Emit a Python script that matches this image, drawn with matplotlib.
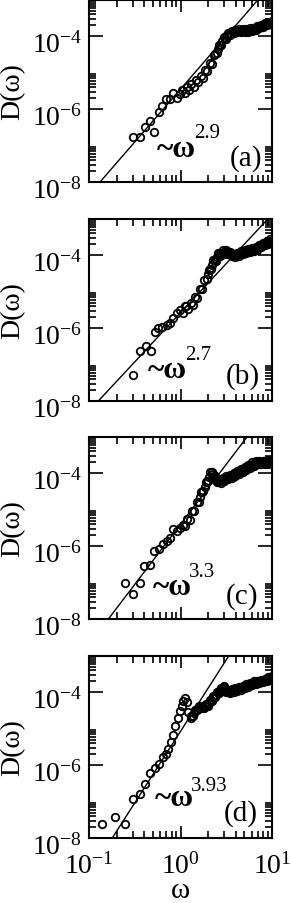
import numpy as np
import matplotlib
matplotlib.use("Agg")
import matplotlib.pyplot as plt
from matplotlib.ticker import FixedLocator, FuncFormatter, NullFormatter
from matplotlib.transforms import ScaledTranslation

plt.rcParams['font.family'] = ['Liberation Serif', 'DejaVu Serif']
plt.rcParams['mathtext.fontset'] = 'custom'
plt.rcParams['mathtext.rm'] = 'Liberation Serif'
plt.rcParams['mathtext.it'] = 'Liberation Serif:italic'
plt.rcParams['mathtext.bf'] = 'Liberation Serif:bold'

# ---------------- data (log10 omega, log10 D) ----------------
# panel (a)
logw_a = [-0.516, -0.443, -0.388, -0.333, -0.286, -0.232, -0.199, -0.162, -0.115, -0.079, -0.042, -0.005,
          0.02, 0.045, 0.07, 0.095, 0.12, 0.145, 0.17, 0.195, 0.22, 0.245, 0.27, 0.295, 0.32, 0.345,
          0.37, 0.395, 0.42, 0.445, 0.47, 0.495, 0.52, 0.545,
          0.56, 0.58, 0.60, 0.62, 0.64, 0.66, 0.68, 0.70, 0.72, 0.74, 0.76, 0.78, 0.80, 0.82, 0.84,
          0.86, 0.88, 0.90, 0.92, 0.94, 0.96, 0.98, 1.00]
logD_a = [-6.775, -6.775, -6.485, -6.32, -6.622, -6.09, -5.91, -5.73, -5.73, -5.56, -5.68, -5.59,
          -5.47, -5.56, -5.40, -5.48, -5.31, -5.38, -5.20, -5.26, -5.08, -5.13, -4.93, -4.95, -4.74, -4.75,
          -4.50, -4.46, -4.23, -4.24, -4.02, -4.06, -3.90, -3.95,
          -3.85, -3.91, -3.82, -3.89, -3.81, -3.89, -3.80, -3.88, -3.79, -3.87, -3.78, -3.85, -3.76, -3.82, -3.72,
          -3.78, -3.68, -3.74, -3.64, -3.70, -3.60, -3.66, -3.58]
logw_a2 = [0.3825, 0.4075, 0.4325, 0.4575, 0.4825, 0.5075, 0.5325,
           0.57, 0.59, 0.61, 0.63, 0.65, 0.67, 0.69, 0.71, 0.73, 0.75, 0.77, 0.79, 0.81, 0.83, 0.85,
           0.87, 0.89, 0.91, 0.93, 0.95, 0.97, 0.99]
logD_a2 = [-4.49, -4.35, -4.23, -4.13, -4.04, -3.975, -3.93,
           -3.88, -3.865, -3.857, -3.852, -3.85, -3.847, -3.842, -3.837, -3.832, -3.825, -3.815, -3.805, -3.79, -3.77, -3.75,
           -3.73, -3.71, -3.69, -3.67, -3.65, -3.63, -3.61]

# panel (b)
logw_b = [-0.519, -0.443, -0.377, -0.326, -0.279, -0.243, -0.205, -0.151, -0.115, -0.079, -0.042, -0.005, 0.031, 0.049,
          0.06, 0.085, 0.11, 0.135, 0.16, 0.185, 0.21, 0.235, 0.26, 0.285, 0.31, 0.335, 0.36, 0.385, 0.41, 0.435,
          0.46, 0.48, 0.50, 0.52, 0.54, 0.56, 0.58, 0.60, 0.62, 0.64, 0.66, 0.68, 0.70, 0.72, 0.74, 0.76,
          0.78, 0.80, 0.82, 0.84, 0.86, 0.88, 0.90, 0.92, 0.94, 0.96, 0.98, 1.00]
logD_b = [-7.288, -6.616, -6.493, -6.616, -6.110, -6.008, -5.964, -5.918, -5.844, -5.707, -5.570, -5.507, -5.589, -5.389,
          -5.39, -5.48, -5.30, -5.36, -5.15, -5.16, -4.92, -4.91, -4.67, -4.66, -4.39, -4.37, -4.13, -4.15, -3.94, -4.01,
          -3.86, -3.95, -3.85, -3.97, -3.90, -4.03, -3.95, -4.04, -3.93, -4.01, -3.89, -3.97, -3.86, -3.94, -3.83, -3.91,
          -3.80, -3.88, -3.77, -3.84, -3.72, -3.78, -3.66, -3.72, -3.61, -3.68, -3.56, -3.63]
logw_b2 = [0.2975, 0.3225, 0.3475, 0.3725, 0.3975, 0.4225, 0.4475,
           0.47, 0.49, 0.51, 0.53, 0.55, 0.57, 0.59, 0.61, 0.63, 0.65, 0.67, 0.69, 0.71, 0.73, 0.75,
           0.77, 0.79, 0.81, 0.83, 0.85, 0.87, 0.89, 0.91, 0.93, 0.95, 0.97, 0.99]
logD_b2 = [-4.52, -4.38, -4.25, -4.14, -4.045, -3.975, -3.93,
           -3.91, -3.905, -3.915, -3.945, -3.97, -3.99, -3.995, -3.985, -3.97, -3.95, -3.93, -3.917, -3.90, -3.883, -3.87,
           -3.857, -3.845, -3.83, -3.805, -3.78, -3.75, -3.72, -3.695, -3.667, -3.642, -3.62, -3.60]

# panel (c)
logw_c = [-0.607, -0.522, -0.443, -0.399, -0.333, -0.286, -0.232, -0.188, -0.151, -0.115, -0.079, -0.042, -0.005,
          0.025, 0.05, 0.075, 0.10, 0.125, 0.15, 0.175, 0.20, 0.225, 0.25, 0.275, 0.30, 0.325,
          0.34, 0.36, 0.38, 0.40, 0.42, 0.44, 0.46, 0.48, 0.50, 0.52, 0.54, 0.56, 0.58, 0.60, 0.62, 0.64, 0.66,
          0.68, 0.70, 0.72, 0.74, 0.76, 0.78, 0.80, 0.82, 0.84, 0.86, 0.88, 0.90, 0.92, 0.94, 0.96, 0.98, 1.00]
logD_c = [-7.014, -7.315, -7.014, -6.548, -6.521, -6.145, -6.082, -5.945, -5.855, -5.781, -5.534, -5.581, -5.507,
          -5.41, -5.45, -5.25, -5.28, -5.04, -5.04, -4.79, -4.78, -4.52, -4.49, -4.23, -4.21, -3.97,
          -3.95, -4.09, -4.07, -4.24, -4.17, -4.27, -4.14, -4.21, -4.08, -4.16, -4.04, -4.12, -3.99, -4.07, -3.94, -4.01, -3.88,
          -3.96, -3.83, -3.91, -3.77, -3.84, -3.70, -3.79, -3.67, -3.75, -3.65, -3.75, -3.65, -3.75, -3.64, -3.73, -3.62, -3.71]
logw_c2 = [0.2125, 0.2375, 0.2625, 0.2875, 0.3125,
           0.35, 0.37, 0.39, 0.41, 0.43, 0.45, 0.47, 0.49, 0.51, 0.53, 0.55, 0.57, 0.59, 0.61, 0.63, 0.65,
           0.67, 0.69, 0.71, 0.73, 0.75, 0.77, 0.79, 0.81, 0.83, 0.85, 0.87, 0.89, 0.91, 0.93, 0.95, 0.97, 0.99]
logD_c2 = [-4.65, -4.50, -4.36, -4.22, -4.09,
           -4.02, -4.08, -4.155, -4.205, -4.22, -4.205, -4.175, -4.145, -4.12, -4.10, -4.08, -4.057, -4.032, -4.005, -3.975, -3.945,
           -3.92, -3.897, -3.872, -3.84, -3.805, -3.772, -3.747, -3.73, -3.71, -3.70, -3.70, -3.70, -3.697, -3.692, -3.685, -3.675, -3.665]

# panel (d)
logw_d = [-0.861, -0.716, -0.607, -0.522, -0.443, -0.383, -0.330, -0.284, -0.237, -0.195, -0.158, -0.137, -0.104,
          -0.082, -0.055, -0.030, -0.008, 0.013, 0.024, 0.049, 0.068, 0.085, 0.110,
          0.12, 0.14, 0.16, 0.18, 0.20, 0.22, 0.24, 0.26, 0.28, 0.30, 0.32, 0.34, 0.36, 0.38, 0.40, 0.42, 0.44,
          0.46, 0.48, 0.50, 0.52, 0.54, 0.56, 0.58, 0.60, 0.62, 0.64, 0.66, 0.68, 0.70, 0.72, 0.74, 0.76, 0.78,
          0.80, 0.82, 0.84, 0.86, 0.88, 0.90, 0.92, 0.94, 0.96, 0.98, 1.00]
logD_d = [-7.603, -7.419, -7.603, -6.937, -6.781, -6.521, -6.219, -6.082, -5.959, -5.775, -5.699, -5.562, -5.364,
          -5.164, -4.932, -4.70, -4.50, -4.36, -4.225, -4.16, -4.27, -4.54, -4.69,
          -4.66, -4.64, -4.48, -4.49, -4.38, -4.44, -4.36, -4.43, -4.32, -4.36, -4.21, -4.23, -4.10, -4.13, -3.99, -4.01, -3.87,
          -3.90, -3.83, -3.98, -3.93, -4.03, -3.92, -3.98, -3.88, -3.95, -3.855, -3.925, -3.83, -3.88, -3.775, -3.84, -3.74, -3.80,
          -3.70, -3.765, -3.675, -3.74, -3.65, -3.72, -3.625, -3.685, -3.59, -3.655, -3.56]
logw_d2 = [0.13, 0.15, 0.17, 0.19, 0.21, 0.23, 0.25, 0.27, 0.29, 0.31, 0.33, 0.35, 0.37, 0.39, 0.41, 0.43,
           0.45, 0.47, 0.49, 0.51, 0.53, 0.55, 0.57, 0.59, 0.61, 0.63, 0.65, 0.67, 0.69, 0.71, 0.73, 0.75,
           0.77, 0.79, 0.81, 0.83, 0.85, 0.87, 0.89, 0.91, 0.93, 0.95, 0.97, 0.99]
logD_d2 = [-4.65, -4.56, -4.485, -4.435, -4.41, -4.40, -4.395, -4.375, -4.34, -4.285, -4.22, -4.165, -4.115, -4.06, -4.00, -3.94,
           -3.885, -3.86, -3.905, -3.955, -3.98, -3.972, -3.947, -3.927, -3.912, -3.90, -3.89, -3.877, -3.855, -3.827, -3.807, -3.79,
           -3.77, -3.75, -3.732, -3.72, -3.707, -3.695, -3.685, -3.672, -3.655, -3.637, -3.622, -3.607]

# power-law fits: D = 10**logA * omega**exponent
exponents = [2.9, 2.7, 3.3, 3.93]
exponent_labels = ["2.9", "2.7", "3.3", "3.93"]
fit_logA = [-5.45, -5.575, -5.40, -5.07]
panel_labels = ["(a)", "(b)", "(c)", "(d)"]

series = [(logw_a + logw_a2, logD_a + logD_a2),
          (logw_b + logw_b2, logD_b + logD_b2),
          (logw_c + logw_c2, logD_c + logD_c2),
          (logw_d + logw_d2, logD_d + logD_d2)]

# annotation positions (axes fraction)
tilde_pos = [(0.372, 0.145), (0.322, 0.130), (0.350, 0.139), (0.360, 0.183)]
sup_pos = [(0.572, 0.249), (0.527, 0.231), (0.545, 0.239), (0.556, 0.261)]
lab_pos = [(0.945, 0.062), (0.934, 0.066), (0.924, 0.056), (0.924, 0.067)]

W, H = 291, 904
fig = plt.figure(figsize=(W / 100, H / 100), dpi=100)

left = 89 / W
width = 183 / W
height = 182 / H
tops = [1, 220, 438, 657]

y_minor = [k * 10.0 ** e for e in (-8, -6, -4) for k in range(2, 10)]
x_minor = [k * 10.0 ** e for e in (-1, 0) for k in range(2, 10)]


def fmt_pow(v, pos):
    e = int(round(np.log10(v)))
    return r'$10^{%d}$' % e


wfit = np.array([0.1, 10.0])
shift_down = ScaledTranslation(0, -5 / 100, fig.dpi_scale_trans)

for i, (lw, lD) in enumerate(series):
    bottom = 1 - (tops[i] + 182) / H
    ax = fig.add_axes([left, bottom, width, height])
    w = 10.0 ** np.array(lw)
    D = 10.0 ** np.array(lD)
    ax.plot(wfit, 10.0 ** fit_logA[i] * wfit ** exponents[i], '-', color='black', lw=1.0, zorder=2)
    ax.plot(w, D, 'o', mfc='none', mec='black', ms=5.4, mew=1.3, zorder=3)
    ax.set_xscale('log')
    ax.set_yscale('log')
    ax.set_xlim(0.1, 10)
    ax.set_ylim(1e-8, 1e-3)

    ax.yaxis.set_major_locator(FixedLocator([1e-8, 1e-6, 1e-4]))
    ax.yaxis.set_minor_locator(FixedLocator(y_minor))
    ax.yaxis.set_major_formatter(FuncFormatter(fmt_pow))
    ax.yaxis.set_minor_formatter(NullFormatter())
    ax.xaxis.set_major_locator(FixedLocator([0.1, 1, 10]))
    ax.xaxis.set_minor_locator(FixedLocator(x_minor))
    ax.xaxis.set_minor_formatter(NullFormatter())
    if i == 3:
        ax.xaxis.set_major_formatter(FuncFormatter(fmt_pow))
        ax.set_xlabel('ω', fontsize=21)
        ax.xaxis.label.set_verticalalignment('baseline')
        ax.xaxis.set_label_coords(0.5, -0.325)
    else:
        ax.xaxis.set_major_formatter(NullFormatter())

    ax.tick_params(which='both', direction='in', top=True, right=True, width=1.2)
    ax.tick_params(axis='y', which='major', length=10, labelsize=20, pad=5)
    ax.tick_params(axis='x', which='major', length=8.5, labelsize=20, pad=10)
    ax.tick_params(which='minor', length=5)
    for s in ax.spines.values():
        s.set_linewidth(1.5)

    for lab in ax.get_yticklabels():
        lab.set_transform(lab.get_transform() + shift_down)

    ax.set_ylabel('D(ω)', fontsize=20)
    ax.yaxis.set_label_coords(-0.35, 0.5)

    tx, ty = tilde_pos[i]
    ax.text(tx, ty, '~ω', transform=ax.transAxes, fontsize=22.5, fontweight='bold',
            ha='left', va='baseline')
    sx, sy = sup_pos[i]
    ax.text(sx, sy, exponent_labels[i], transform=ax.transAxes, fontsize=15,
            ha='left', va='baseline')
    lx, ly = lab_pos[i]
    ax.text(lx, ly, panel_labels[i], transform=ax.transAxes, fontsize=21,
            ha='right', va='bottom')

fig.savefig('out.png', dpi=100)
